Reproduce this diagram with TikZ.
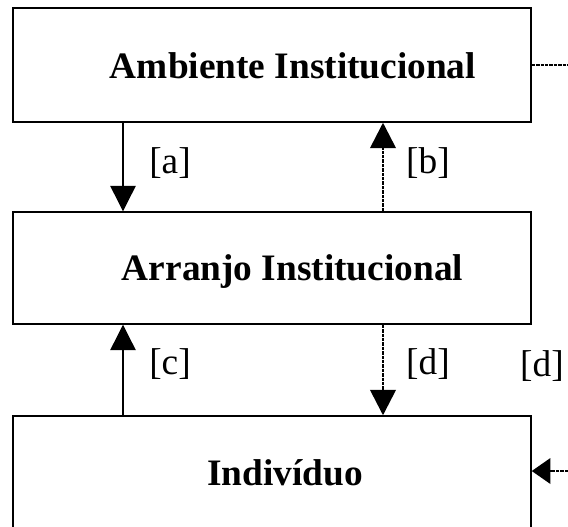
\documentclass[tikz,border=0pt]{standalone}
\usepackage{fontspec}
\setmainfont{Liberation Serif}
\usetikzlibrary{arrows.meta,positioning}

\begin{document}
\begin{tikzpicture}[x=0.75pt, y=-0.75pt,
  box/.style={draw, line width=1.1pt, inner sep=0pt, minimum width=388.5pt},
  title/.style={font=\fontsize{28}{32}\selectfont\bfseries, anchor=base, inner sep=0pt},
  tag/.style={font=\fontsize{28}{32}\selectfont, inner sep=0pt},
  flow/.style={line width=1pt, -{Triangle[length=19pt, width=19pt]}},
  weak/.style={line width=2pt, dash pattern=on 2.6pt off 0.7pt}]
\useasboundingbox (0,0) rectangle (568,526);
\clip (0,0) rectangle (568,526);

% the three levels
\node[box, minimum height=85.5pt] (amb) at (272,65) {};
\node[box, minimum height=84pt] (arr) at (272,268) {};
\node[box, minimum height=84.75pt] (ind) at (272,472.5) {};

\node[title] (ambT) at (293,78) {Ambiente Institucional};
\node[title] (arrT) at (292.5,280) {Arranjo Institucional};
\node[title] (indT) at (285,485) {Indivíduo};

% columns of the vertical links
\coordinate (ax) at (123,0);
\coordinate (bx) at (383,0);
\coordinate (outA) at (568,65);
\coordinate (inI) at (568,471);

\draw[flow] (amb.south -| ax) -- (arr.north -| ax);
\draw[flow] (ind.north -| ax) -- (arr.south -| ax);
\draw[weak, -{Triangle[length=19pt, width=19pt]}] (arr.north -| bx) -- (amb.south -| bx);
\draw[weak, -{Triangle[length=19pt, width=19pt]}] (arr.south -| bx) -- (ind.north -| bx);

% links leaving the picture on the right
\draw[weak] (amb.east) -- (outA);
\draw[weak, -{Triangle[length=14pt, width=19pt]}] (inI) -- (ind.east |- inI);

\node[tag] (lblA) at (170,163) {[a]};
\node[tag] (lblB) at (428,163) {[b]};
\node[tag] (lblC) at (170,364) {[c]};
\node[tag] (lblD) at (428,364) {[d]};
\node[tag] (lblE) at (542,366) {[d]};
\end{tikzpicture}
\end{document}
